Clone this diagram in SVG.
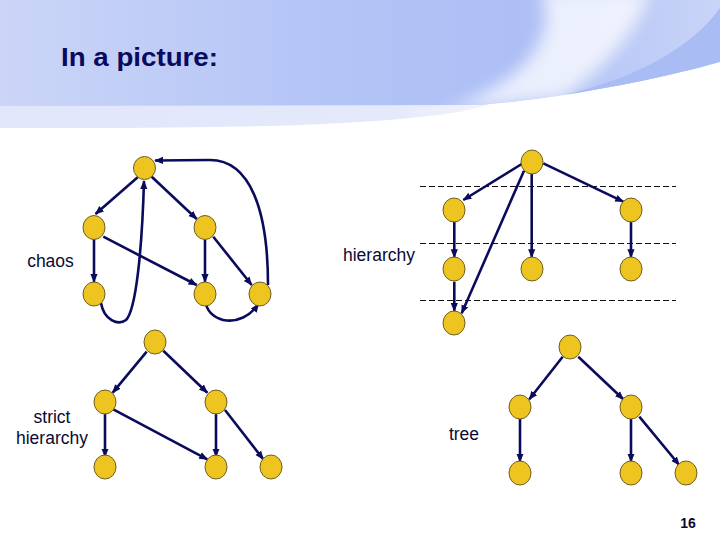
<svg xmlns="http://www.w3.org/2000/svg" width="720" height="540" viewBox="0 0 720 540">
<defs>
<linearGradient id="hdr" x1="0" y1="0" x2="1" y2="0">
<stop offset="0" stop-color="#cbd5f7"/>
<stop offset="0.45" stop-color="#b3c4f6"/>
<stop offset="0.72" stop-color="#adbff5"/>
<stop offset="1" stop-color="#c9d4f7"/>
</linearGradient>
<linearGradient id="band" x1="0" y1="0" x2="1" y2="0">
<stop offset="0" stop-color="#e1e6fb"/>
<stop offset="0.8" stop-color="#e4e9fb"/>
<stop offset="1" stop-color="#f3f5fd"/>
</linearGradient>
<clipPath id="hclip"><path d="M0,0 H720 V62 C670,76 610,88 563,95 C530,100 505,103 480,105 L0,106 Z"/></clipPath>
<filter id="blur" x="-20%" y="-20%" width="140%" height="140%"><feGaussianBlur stdDeviation="8"/></filter>
<marker id="ah" viewBox="0 0 10 10" refX="9" refY="5" markerWidth="9" markerHeight="9" markerUnits="userSpaceOnUse" orient="auto">
<path d="M0,1 L10,5 L0,9 Z" fill="#0b0b5c"/>
</marker>
<style>
.n{fill:#eec520;stroke:#6e5e22;stroke-width:1}
.e{fill:none;stroke:#0b0b5c;stroke-width:2.6;marker-end:url(#ah)}
.d{stroke:#111;stroke-width:1;stroke-dasharray:6,3}
.lbl{font-family:"Liberation Sans",Arial,sans-serif;font-size:17.5px;fill:#0a0a33}
</style>
</defs>
<rect width="720" height="540" fill="#ffffff"/>
<g id="header">
<path d="M0,105 L490,104 C470,112 420,120 300,125 C200,128 100,128 0,128 Z" fill="url(#band)"/>
<path d="M0,0 H720 V62 C670,76 610,88 563,95 C530,100 505,103 480,105 L0,106 Z" fill="url(#hdr)"/>
<g clip-path="url(#hclip)">
<path d="M540,-10 C560,35 530,80 440,112 L563,98 C615,60 640,25 650,-10 Z" fill="#ffffff" opacity="0.75" filter="url(#blur)"/>
<path d="M720,8 C690,50 630,80 563,95 C620,88 680,75 720,62 Z" fill="#a9bcf4"/>
</g>
<text x="61" y="66" font-family="'Liberation Sans',Arial,sans-serif" font-weight="bold" font-size="26" fill="#0a0a5e" textLength="157" lengthAdjust="spacingAndGlyphs">In a picture:</text>
</g>
<g id="dashes">
<line class="d" x1="420" y1="186.5" x2="676" y2="186.5"/>
<line class="d" x1="420" y1="243.5" x2="676" y2="243.5"/>
<line class="d" x1="420" y1="300.5" x2="676" y2="300.5"/>
</g>
<g id="connectors">
<!-- chaos -->
<path class="e" d="M137.7,177.3 L95.5,214"/>
<path class="e" d="M151.7,176.7 L196.7,219"/>
<path class="e" d="M94,239 L94,282"/>
<path class="e" d="M103.3,236.7 L196.7,285"/>
<path class="e" d="M205,239.5 L205,282"/>
<path class="e" d="M213.3,236.7 L251.7,285"/>
<path class="e" d="M268,285 C268,210 250,160 210,160 L155,160.5"/>
<path class="e" d="M101,303 C104,320 118,326 126,320 C136,310 142,250 144,181"/>
<path class="e" d="M206,304 C210,322 240,330 258.5,304"/>
<!-- hierarchy -->
<path class="e" d="M521.7,164 L463.3,200"/>
<path class="e" d="M543.3,163.3 L623.3,201.7"/>
<path class="e" d="M531.7,173.3 L531.7,257.3"/>
<path class="e" d="M524,170.7 L461.7,313.3"/>
<path class="e" d="M454.3,221.7 L454.3,257.3"/>
<path class="e" d="M631,221.7 L631,257.3"/>
<path class="e" d="M454.3,281.7 L454.3,311"/>
<!-- strict hierarchy -->
<path class="e" d="M146.7,351.7 L112.7,392.7"/>
<path class="e" d="M163.3,350.7 L207.3,392.7"/>
<path class="e" d="M105,413.5 L105,456.7"/>
<path class="e" d="M113.3,409.3 L207.3,459.3"/>
<path class="e" d="M216,413.5 L216,456.7"/>
<path class="e" d="M225,410 L263.3,459.3"/>
<!-- tree -->
<path class="e" d="M562.7,356.7 L529.3,399.3"/>
<path class="e" d="M578.3,356.7 L623.3,399.3"/>
<path class="e" d="M520,419 L520,461.7"/>
<path class="e" d="M631,419 L631,461.7"/>
<path class="e" d="M639.3,416.7 L679.3,465"/>
</g>
<g id="chaos">
<ellipse class="n" cx="144.5" cy="168" rx="11" ry="11.5"/>
<ellipse class="n" cx="94" cy="227.5" rx="11" ry="12"/>
<ellipse class="n" cx="205" cy="227.5" rx="11" ry="12"/>
<ellipse class="n" cx="94" cy="294" rx="11" ry="12"/>
<ellipse class="n" cx="205" cy="294" rx="11" ry="12"/>
<ellipse class="n" cx="260" cy="294" rx="11" ry="12"/>
<text class="lbl" x="50.5" y="267" text-anchor="middle">chaos</text>
</g>
<g id="hierarchy">
<ellipse class="n" cx="532" cy="162" rx="11" ry="12"/>
<ellipse class="n" cx="454" cy="210" rx="11" ry="12"/>
<ellipse class="n" cx="631" cy="210" rx="11" ry="12"/>
<ellipse class="n" cx="454" cy="269" rx="11" ry="12"/>
<ellipse class="n" cx="532" cy="269" rx="11" ry="12"/>
<ellipse class="n" cx="631" cy="269" rx="11" ry="12"/>
<ellipse class="n" cx="454" cy="323" rx="11" ry="12"/>
<text class="lbl" x="379" y="261" text-anchor="middle">hierarchy</text>
</g>
<g id="strict">
<ellipse class="n" cx="155" cy="342" rx="11" ry="12"/>
<ellipse class="n" cx="105" cy="402" rx="11" ry="12"/>
<ellipse class="n" cx="216" cy="402" rx="11" ry="12"/>
<ellipse class="n" cx="105" cy="467" rx="11" ry="12"/>
<ellipse class="n" cx="216" cy="467" rx="11" ry="12"/>
<ellipse class="n" cx="271" cy="467" rx="11" ry="12"/>
<text class="lbl" x="52" y="423" text-anchor="middle">strict</text>
<text class="lbl" x="52" y="444" text-anchor="middle">hierarchy</text>
</g>
<g id="tree">
<ellipse class="n" cx="570" cy="347" rx="11" ry="12"/>
<ellipse class="n" cx="520" cy="407" rx="11" ry="12"/>
<ellipse class="n" cx="631" cy="407" rx="11" ry="12"/>
<ellipse class="n" cx="520" cy="473" rx="11" ry="12"/>
<ellipse class="n" cx="631" cy="473" rx="11" ry="12"/>
<ellipse class="n" cx="686" cy="473" rx="11" ry="12"/>
<text class="lbl" x="464" y="440" text-anchor="middle">tree</text>
</g>
<text x="688" y="528" text-anchor="middle" font-family="'Liberation Sans',Arial,sans-serif" font-weight="bold" font-size="14" fill="#0a0a33">16</text>
</svg>
